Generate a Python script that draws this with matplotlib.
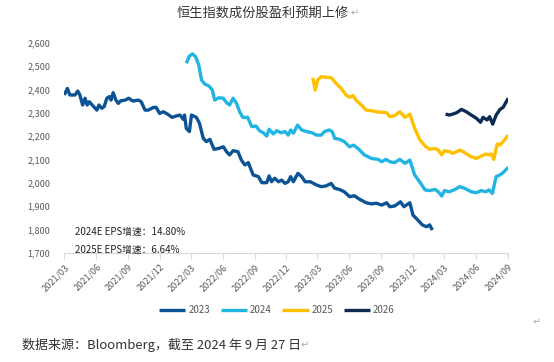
import pandas as pd
import matplotlib
matplotlib.use("Agg")
import matplotlib.pyplot as plt
from matplotlib.ticker import FuncFormatter

plt.rcParams['font.family'] = ['Noto Sans CJK SC', 'DejaVu Sans']

# 2023 EPS 预期
dates_2023 = ['2021-03-01', '2021-03-10', '2021-03-17', '2021-04-01', '2021-04-09', '2021-04-15',
              '2021-04-23', '2021-04-30', '2021-05-06', '2021-05-12', '2021-05-23', '2021-06-03',
              '2021-06-09', '2021-06-17', '2021-06-24', '2021-07-02', '2021-07-09', '2021-07-14',
              '2021-07-20', '2021-07-28', '2021-08-04', '2021-08-11', '2021-08-24', '2021-09-03',
              '2021-09-15', '2021-10-01', '2021-10-09', '2021-10-20', '2021-10-29', '2021-11-14',
              '2021-11-21', '2021-12-01', '2021-12-12', '2021-12-24', '2022-01-06', '2022-01-18',
              '2022-01-29', '2022-02-07', '2022-02-11', '2022-02-16', '2022-02-25', '2022-03-03',
              '2022-03-17', '2022-03-26', '2022-04-06', '2022-04-15', '2022-04-25', '2022-05-07',
              '2022-05-21', '2022-06-03', '2022-06-12', '2022-06-21', '2022-07-01', '2022-07-15',
              '2022-07-25', '2022-08-04', '2022-08-14', '2022-08-28', '2022-09-12', '2022-09-22',
              '2022-10-06', '2022-10-13', '2022-10-20', '2022-10-29', '2022-11-09', '2022-11-18',
              '2022-11-28', '2022-12-07', '2022-12-14', '2022-12-22', '2023-01-04', '2023-01-15',
              '2023-01-25', '2023-02-09', '2023-02-27', '2023-03-12', '2023-03-26', '2023-04-10',
              '2023-04-20', '2023-05-04', '2023-05-18', '2023-06-02', '2023-06-16', '2023-07-01',
              '2023-07-20', '2023-08-04', '2023-08-18', '2023-09-03', '2023-09-17', '2023-09-26',
              '2023-10-10', '2023-10-27', '2023-11-06', '2023-11-23', '2023-12-02', '2023-12-16',
              '2023-12-29', '2024-01-10', '2024-01-19', '2024-01-27']
vals_2023 = [2376, 2404, 2376, 2376, 2393, 2376, 2333, 2362, 2333, 2347, 2329, 2311,
             2333, 2319, 2326, 2362, 2369, 2354, 2386, 2354, 2340, 2351, 2354, 2362,
             2350, 2354, 2347, 2311, 2311, 2323, 2323, 2297, 2304, 2294, 2280, 2286,
             2290, 2272, 2290, 2233, 2219, 2290, 2280, 2255, 2190, 2176, 2186, 2143,
             2147, 2154, 2133, 2119, 2137, 2133, 2097, 2076, 2086, 2033, 2026, 2000,
             2000, 2029, 2004, 2019, 2004, 2011, 1997, 2004, 2026, 2004, 2040, 2026,
             2004, 2004, 1990, 1983, 1986, 1997, 1976, 1971, 1961, 1940, 1944, 1929,
             1914, 1909, 1912, 1904, 1914, 1897, 1900, 1918, 1897, 1914, 1861, 1840,
             1819, 1811, 1819, 1797]

# 2024 EPS 预期
dates_2024 = ['2022-02-16', '2022-02-25', '2022-03-06', '2022-03-15', '2022-03-24', '2022-04-01',
              '2022-04-10', '2022-04-23', '2022-05-02', '2022-05-09', '2022-05-21', '2022-06-03',
              '2022-06-12', '2022-06-21', '2022-07-01', '2022-07-11', '2022-07-20', '2022-07-29',
              '2022-08-12', '2022-08-24', '2022-09-05', '2022-09-15', '2022-09-26', '2022-10-06',
              '2022-10-13', '2022-10-25', '2022-11-04', '2022-11-16', '2022-11-28', '2022-12-07',
              '2022-12-14', '2022-12-22', '2023-01-03', '2023-01-15', '2023-01-29', '2023-02-14',
              '2023-02-27', '2023-03-12', '2023-03-22', '2023-04-04', '2023-04-13', '2023-04-20',
              '2023-05-04', '2023-05-18', '2023-06-02', '2023-06-14', '2023-06-26', '2023-07-15',
              '2023-08-04', '2023-08-23', '2023-09-03', '2023-09-15', '2023-09-26', '2023-10-10',
              '2023-10-25', '2023-11-09', '2023-11-23', '2023-12-07', '2023-12-21', '2024-01-06',
              '2024-01-19', '2024-02-04', '2024-02-13', '2024-02-23', '2024-03-02', '2024-03-16',
              '2024-04-01', '2024-04-15', '2024-04-29', '2024-05-18', '2024-06-02', '2024-06-16',
              '2024-06-29', '2024-07-08', '2024-07-18', '2024-07-29', '2024-08-09', '2024-08-18',
              '2024-09-02']
vals_2024 = [2512, 2543, 2552, 2540, 2504, 2440, 2423, 2414, 2397, 2354, 2364, 2362,
             2343, 2333, 2362, 2340, 2304, 2280, 2280, 2240, 2243, 2223, 2214, 2200,
             2229, 2209, 2223, 2214, 2219, 2204, 2226, 2212, 2247, 2226, 2219, 2214,
             2204, 2204, 2219, 2226, 2219, 2190, 2186, 2176, 2154, 2161, 2147, 2119,
             2104, 2100, 2090, 2100, 2090, 2086, 2100, 2083, 2097, 2033, 2004, 1969,
             1966, 1971, 1961, 1943, 1966, 1961, 1971, 1983, 1976, 1961, 1957, 1966,
             1961, 1969, 1954, 2026, 2033, 2043, 2066]

# 2025 EPS 预期
dates_2025 = ['2023-02-16', '2023-02-23', '2023-03-02', '2023-03-12', '2023-03-26', '2023-04-10',
              '2023-04-24', '2023-05-09', '2023-05-23', '2023-06-02', '2023-06-12', '2023-06-21',
              '2023-07-06', '2023-07-20', '2023-08-04', '2023-08-18', '2023-09-03', '2023-09-17',
              '2023-09-26', '2023-10-10', '2023-10-25', '2023-11-09', '2023-11-23', '2023-12-07',
              '2023-12-21', '2024-01-06', '2024-01-19', '2024-02-04', '2024-02-13', '2024-02-23',
              '2024-03-02', '2024-03-16', '2024-03-26', '2024-04-06', '2024-04-15', '2024-04-29',
              '2024-05-18', '2024-06-02', '2024-06-16', '2024-06-29', '2024-07-08', '2024-07-15',
              '2024-07-22', '2024-08-01', '2024-08-09', '2024-08-18', '2024-09-02']
vals_2025 = [2450, 2397, 2440, 2454, 2452, 2450, 2426, 2404, 2376, 2366, 2373, 2354,
             2333, 2311, 2309, 2304, 2302, 2300, 2283, 2287, 2304, 2280, 2294, 2233,
             2186, 2157, 2143, 2147, 2140, 2119, 2137, 2133, 2126, 2133, 2140, 2129,
             2111, 2104, 2114, 2123, 2119, 2123, 2100, 2166, 2161, 2176, 2204]

# 2026 EPS 预期
dates_2026 = ['2024-03-05', '2024-03-16', '2024-03-26', '2024-04-06', '2024-04-20', '2024-05-04',
              '2024-05-18', '2024-06-02', '2024-06-14', '2024-06-21', '2024-07-03', '2024-07-10',
              '2024-07-19', '2024-07-29', '2024-08-09', '2024-08-18', '2024-09-02']
vals_2026 = [2294, 2290, 2294, 2300, 2314, 2304, 2290, 2276, 2259, 2280, 2269, 2283,
             2251, 2290, 2314, 2323, 2362]

series_names = ['2023', '2024', '2025', '2026']
series_colors = ['#0b5394', '#22b4e2', '#ffc000', '#0d2c54']

title = '恒生指数成份股盈利预期上修'
notes = ['2024E EPS增速：14.80%', '2025E EPS增速：6.64%']
source = '数据来源：Bloomberg，截至 2024 年 9 月 27 日'

fig = plt.figure(figsize=(5.54, 3.62), dpi=100)
ax = fig.add_axes([0.116, 0.302, 0.8015, 0.580])

all_dates = [dates_2023, dates_2024, dates_2025, dates_2026]
all_vals = [vals_2023, vals_2024, vals_2025, vals_2026]
for name, d, v, c in zip(series_names, all_dates, all_vals, series_colors):
    ax.plot(pd.to_datetime(d), v, color=c, lw=2.4, label=name, solid_capstyle='butt')

ax.set_ylim(1700, 2600)
ax.set_yticks(range(1700, 2601, 100))
ax.yaxis.set_major_formatter(FuncFormatter(lambda y, p: f'{int(y):,}'))
ax.set_xlim(pd.Timestamp('2021-03-01'), pd.Timestamp('2024-09-02'))
xt = pd.date_range('2021-03-01', '2024-09-01', freq='3MS')
ax.set_xticks(xt)
ax.set_xticklabels([t.strftime('%Y/%m') for t in xt], rotation=45, ha='right',
                   va='top', rotation_mode='anchor')

for s in ['top', 'right', 'left']:
    ax.spines[s].set_visible(False)
ax.spines['bottom'].set_color('#d9d9d9')
ax.spines['bottom'].set_linewidth(0.8)
ax.tick_params(axis='y', length=0, pad=10, labelsize=6.5, labelcolor='#595959')
ax.tick_params(axis='x', length=4, width=0.8, color='#d9d9d9', pad=3,
               labelsize=6.5, labelcolor='#595959')

ax.text(0.024, 0.10, notes[0], transform=ax.transAxes, fontsize=7, color='#222222', va='center')
ax.text(0.024, 0.015, notes[1], transform=ax.transAxes, fontsize=7, color='#222222', va='center')

fig.text(0.474, 0.963, title, ha='center', va='center', fontsize=9.5, color='#333333')
fig.text(0.633, 0.963, '↵', ha='left', va='center', fontsize=7, color='#aaaaaa',
         family='DejaVu Sans')

fig.legend(loc='center', bbox_to_anchor=(0.5, 1 - 310 / 362), ncol=4, frameon=False,
           fontsize=7, labelcolor='#595959', handlelength=2.7, handletextpad=0.3,
           columnspacing=1.1)

fig.text(0.04, 1 - 345 / 362, source, ha='left', va='center', fontsize=9.4, color='#333333')
fig.text(0.542, 1 - 345 / 362, '↵', ha='left', va='center', fontsize=7, color='#aaaaaa',
         family='DejaVu Sans')
fig.text(0.962, 1 - 322 / 362, '↵', ha='left', va='center', fontsize=7, color='#aaaaaa',
         family='DejaVu Sans')

fig.savefig('out.png', dpi=100)
